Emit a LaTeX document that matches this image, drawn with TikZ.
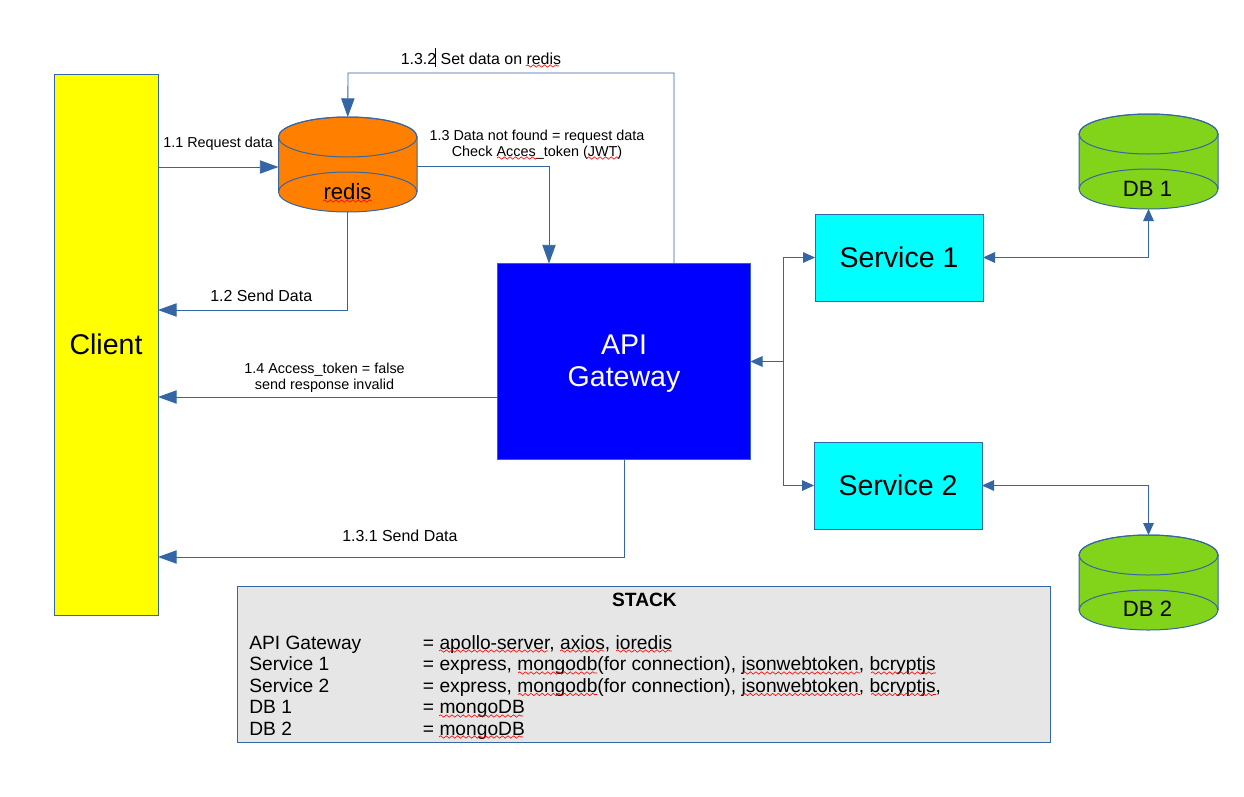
\documentclass[tikz,border=0pt]{standalone}
\usepackage{fontspec}
\setmainfont{Liberation Sans}
\usetikzlibrary{arrows.meta,decorations.pathmorphing}
\definecolor{lineblue}{HTML}{3465A4}
\definecolor{orangefill}{HTML}{FF8000}
\definecolor{greenfill}{HTML}{81D41A}
\definecolor{grayfill}{HTML}{E6E6E6}
\definecolor{clientyellow}{HTML}{FFFF00}
\definecolor{svccyan}{HTML}{00FFFF}
\definecolor{apiblue}{HTML}{0000FF}
\definecolor{squigred}{HTML}{FF0000}
\tikzset{
  x=0.75pt, y=-0.75pt,
  boxnode/.style={draw=lineblue, line width=0.75pt, inner sep=0pt, outer sep=0pt, align=center, text=black},
  bignode/.style={boxnode, font=\fontsize{21.4}{24}\selectfont},
  conn/.style={draw=lineblue, line width=0.65pt, -{Triangle[length=14pt,width=10pt]}},
  connsmall/.style={draw=lineblue, line width=0.65pt, {Triangle[length=9pt,width=8pt]}-{Triangle[length=9pt,width=8pt]}},
  connlast/.style={draw=lineblue, line width=0.65pt, -{Triangle[length=9pt,width=8pt]}},
  smalltext/.style={inner sep=0pt, anchor=base west, font=\fontsize{10.8}{12}\selectfont},
  midtext/.style={inner sep=0pt, anchor=base west, font=\fontsize{11.95}{14}\selectfont},
  stacktext/.style={inner sep=0pt, anchor=base west, font=\fontsize{14.4}{16}\selectfont},
  squig/.style={draw=squigred, line width=0.45pt, decorate, decoration={snake, amplitude=0.9pt, segment length=4.2pt}},
}
\newcommand{\cyl}[7]{% name, x1, x2, ytop, ybot, ry, colour
  \pgfmathsetmacro{\cxm}{(#2+#3)/2}
  \pgfmathsetmacro{\crx}{(#3-#2)/2}
  \pgfmathsetmacro{\cyt}{#4+#6}
  \pgfmathsetmacro{\cyb}{#5-#6}
  \pgfmathsetmacro{\cymid}{(#4+#5)/2}
  \pgfmathsetmacro{\cw}{(#3-#2)*0.75}
  \pgfmathsetmacro{\ch}{(#5-#4)*0.75}
  \path[fill=#7,draw=lineblue,line width=0.75pt]
    (#2,\cyt) -- (#2,\cyb) arc[start angle=180,end angle=360,x radius=\crx*0.75pt,y radius=#6*0.75pt]
    -- (#3,\cyt) arc[start angle=0,end angle=180,x radius=\crx*0.75pt,y radius=#6*0.75pt] -- cycle;
  \draw[lineblue,line width=0.75pt] (\cxm,\cyt) ellipse[x radius=\crx*0.75pt,y radius=#6*0.75pt];
  \draw[lineblue,line width=0.75pt] (#2,\cyb) arc[start angle=180,end angle=0,x radius=\crx*0.75pt,y radius=#6*0.75pt];
  \node[inner sep=0pt,outer sep=0pt,minimum width=\cw pt,minimum height=\ch pt] (#1) at (\cxm,\cymid) {};
}
\newcommand{\wavy}[3]{\draw[squig] (#1,#3) -- (#2,#3);}
\begin{document}
\begin{tikzpicture}
\useasboundingbox[fill=white] (0,0) rectangle (1244,796);

% Boxes
\node[bignode, fill=clientyellow, minimum width=78pt, minimum height=405.75pt] (client) at (106,344.5) {Client};
\node[bignode, fill=apiblue, minimum width=189.75pt, minimum height=147pt] (api) at (624,361.5) {};
\node[inner sep=0pt, align=center, text=white, font=\fontsize{21.4}{24.2}\selectfont] (apilabel) at (624,363.5) {API\\Gateway};
\node[bignode, fill=svccyan, minimum width=126pt, minimum height=65.25pt] (svcone) at (899,257.5) {Service 1};
\node[bignode, fill=svccyan, minimum width=126pt, minimum height=65.25pt] (svctwo) at (898,485.5) {Service 2};

% Cylinders
\cyl{redis}{278.5}{417}{117}{212}{20}{orangefill}
\cyl{dbone}{1079}{1218}{114}{209}{20}{greenfill}
\cyl{dbtwo}{1079}{1218}{535}{630}{20}{greenfill}
\node[inner sep=0pt, anchor=base, font=\fontsize{16.6}{18}\selectfont] (redislabel) at (347.5,199.5) {redis};
\node[inner sep=0pt, anchor=base, font=\fontsize{16.6}{18}\selectfont] (dbonelabel) at (1147.5,196) {DB 1};
\node[inner sep=0pt, anchor=base, font=\fontsize{16.6}{18}\selectfont] (dbtwolabel) at (1147.5,616) {DB 2};

% Connectors
\draw[conn] (client.east |- 0,167) -- (redis.west |- 0,167);
\draw[conn] (redis.east |- 0,166) -| (api.north -| 549,0);
\draw[conn] (api.north -| 674,0) |- (348,73) -- (redis.north);
\draw[conn] (redis.south) |- (client.east |- 0,310);
\draw[conn] (api.west |- 0,397) -- (client.east |- 0,397);
\draw[conn] (api.south) |- (client.east |- 0,557);
\coordinate (junction) at (783,361.5);
\draw[connlast] (junction) -- (api.east |- junction);
\draw[connlast] (junction) |- (svcone.west);
\draw[connlast] (junction) |- (svctwo.west);
\draw[connsmall] (svcone.east) -| (dbone.south);
\draw[connsmall] (svctwo.east) -| (dbtwo.north);

% Labels
\node[smalltext] (lblreq) at (163,147) {1.1 Request data};
\node[midtext] (lblset) at (400.5,64) {1.3.2 Set data on redis};
\draw[black, line width=0.5pt] (435.5,48) -- (435.5,67);
\node[smalltext, anchor=center, align=center] (lblnf) at (537,144.5) {1.3 Data not found = request data\\Check Acces\_token (JWT)};
\node[midtext] (lblsend) at (210,301) {1.2 Send Data};
\node[smalltext, anchor=center, align=center] (lblaccess) at (324.5,378) {1.4 Access\_token = false\\send response invalid};
\node[midtext] (lblsendb) at (342,541) {1.3.1 Send Data};

% Stack
\node[boxnode, fill=grayfill, minimum width=609.5pt, minimum height=117pt] (stack) at (644.25,664) {};
\node[inner sep=0pt, anchor=base, font=\bfseries\fontsize{14.4}{16}\selectfont] (stacktitle) at (644.5,606) {STACK};
\node[stacktext] (s1) at (249,649) {API Gateway};
\node[stacktext] (s2) at (249,670) {Service 1};
\node[stacktext] (s3) at (249,692) {Service 2};
\node[stacktext] (s4) at (249,713) {DB 1};
\node[stacktext] (s5) at (249,735) {DB 2};
\node[stacktext] (t1) at (422.7,649) {= apollo-server, axios, ioredis};
\node[stacktext] (t2) at (422.7,670) {= express, mongodb(for connection), jsonwebtoken, bcryptjs};
\node[stacktext] (t3) at (422.7,692) {= express, mongodb(for connection), jsonwebtoken, bcryptjs,};
\node[stacktext] (t4) at (422.7,713) {= mongoDB};
\node[stacktext] (t5) at (422.7,735) {= mongoDB};

% Spell-check underlines
\wavy{526}{559}{66}
\wavy{497}{537}{158}
\wavy{587}{620}{158}
\wavy{323}{372}{201}
\wavy{439}{548}{651}
\wavy{560}{604}{651}
\wavy{616}{672}{651}
\wavy{518}{597}{673}
\wavy{743}{860}{673}
\wavy{871}{936}{673}
\wavy{518}{597}{694.5}
\wavy{743}{860}{694.5}
\wavy{871}{936}{694.5}
\wavy{439}{523}{716}
\wavy{439}{523}{737}
\end{tikzpicture}
\end{document}
